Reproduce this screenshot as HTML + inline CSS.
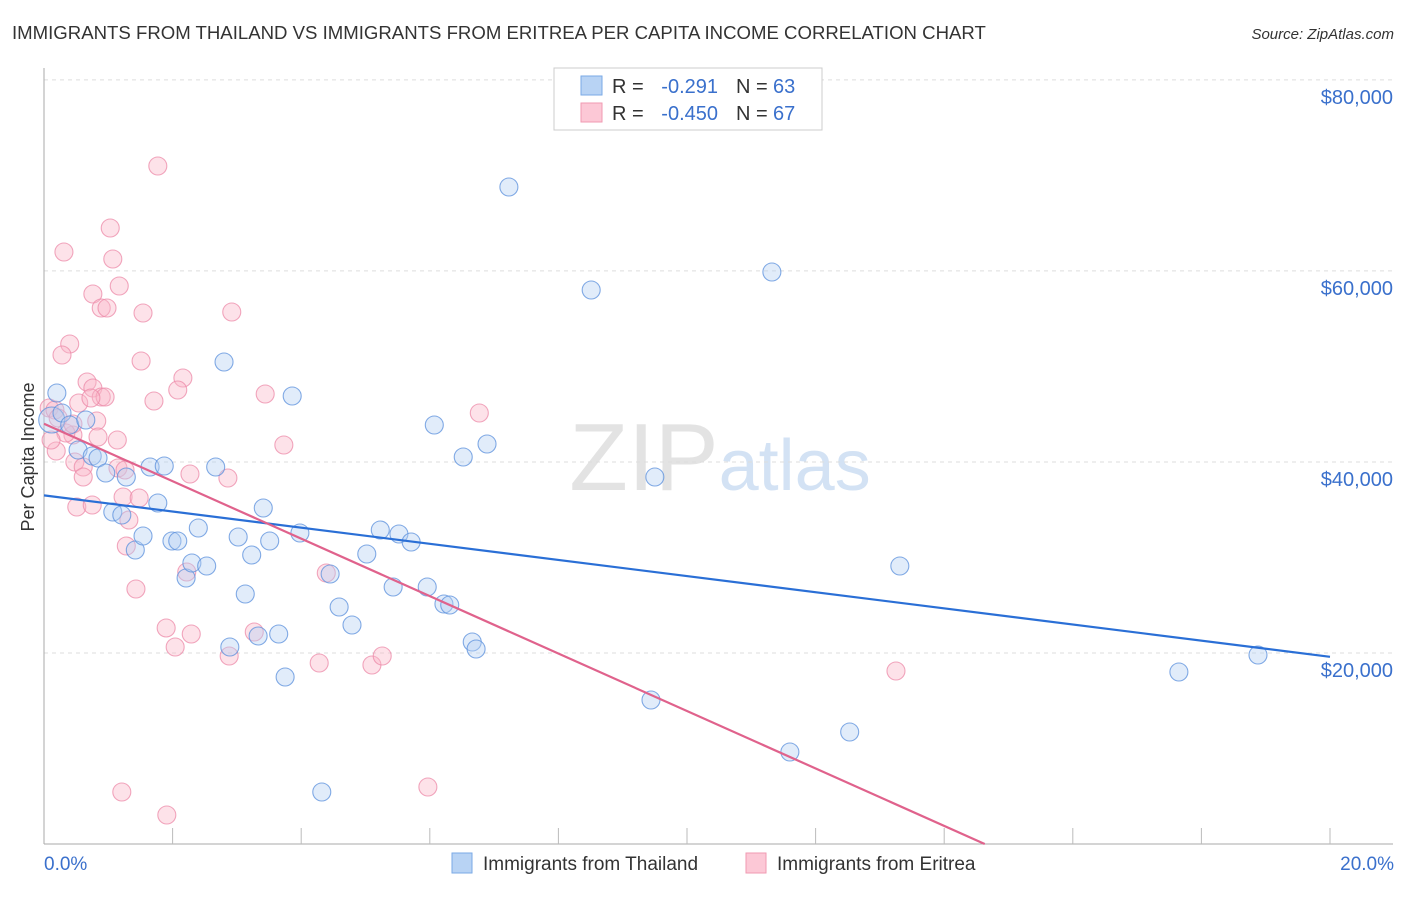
<!DOCTYPE html>
<html><head><meta charset="utf-8"><style>
body{margin:0;background:#fff;font-family:"Liberation Sans",sans-serif;}
svg text{font-family:"Liberation Sans",sans-serif;}
</style></head><body>
<svg id="chart" width="1406" height="892" viewBox="0 0 1406 892" xmlns="http://www.w3.org/2000/svg">
<text x="12" y="39" font-size="18.6" fill="#333">IMMIGRANTS FROM THAILAND VS IMMIGRANTS FROM ERITREA PER CAPITA INCOME CORRELATION CHART</text>
<text x="1394" y="39" font-size="15" font-style="italic" fill="#333" text-anchor="end">Source: ZipAtlas.com</text>
<text x="720" y="490" font-size="96" text-anchor="middle" fill="#ddd" font-family="Liberation Serif" opacity="0.8">ZIP<tspan fill="#c9dcf2" font-family="Liberation Sans" font-size="72">atlas</tspan></text>
<g id="grid"></g>
<g id="marks"></g>
<text transform="translate(34,457) rotate(-90)" font-size="18" fill="#333" text-anchor="middle">Per Capita Income</text>
<g>
<rect x="554" y="68" width="268" height="62" fill="#fff" stroke="#ccc"/>
<rect x="581" y="76" width="21" height="19" fill="#b8d3f4" stroke="#7aaae6"/>
<rect x="581" y="103" width="21" height="19" fill="#fcc8d6" stroke="#f09ab2"/>
<text x="612" y="93" font-size="20" fill="#333">R =</text>
<text x="718" y="93" font-size="20" fill="#3a70cc" text-anchor="end">-0.291</text>
<text x="736" y="93" font-size="20" fill="#333">N =</text>
<text x="773" y="93" font-size="20" fill="#3a70cc">63</text>
<text x="612" y="120" font-size="20" fill="#333">R =</text>
<text x="718" y="120" font-size="20" fill="#3a70cc" text-anchor="end">-0.450</text>
<text x="736" y="120" font-size="20" fill="#333">N =</text>
<text x="773" y="120" font-size="20" fill="#3a70cc">67</text>
</g>
<g>
<rect x="452" y="853" width="20" height="20" fill="#b8d3f4" stroke="#7aaae6"/>
<text x="483" y="870" font-size="19" fill="#333">Immigrants from Thailand</text>
<rect x="746" y="853" width="20" height="20" fill="#fcc8d6" stroke="#f09ab2"/>
<text x="777" y="870" font-size="19" fill="#333">Immigrants from Eritrea</text>
</g>
<text x="44" y="870" font-size="19" fill="#3a70cc">0.0%</text>
<text x="1394" y="870" font-size="19" fill="#3a70cc" text-anchor="end">20.0%</text>
</svg>
<script>
const yTicks=[20000,40000,60000,80000];
const yTickLabels=["$20,000","$40,000","$60,000","$80,000"];
const xTicks=[2,4,6,8,10,12,14,16,18,20];
const thaiPx=[[57,393],[52,420],[62,413],[70,425],[86,420],[78,450],[92,456],[98,458],[106,473],[126,477],[113,512],[122,515],[135,550],[143,536],[150,467],[158,503],[164,466],[172,541],[178,541],[186,578],[192,563],[198,528],[207,566],[216,467],[224,362],[230,647],[238,537],[245,594],[252,555],[258,636],[263,508],[270,541],[279,634],[285,677],[292,396],[300,533],[330,574],[322,792],[339,607],[352,625],[367,554],[380,530],[393,587],[399,534],[411,542],[427,587],[434,425],[444,604],[450,605],[463,457],[472,642],[476,649],[487,444],[509,187],[591,290],[651,700],[655,477],[772,272],[790,752],[850,732],[900,566],[1179,672],[1258,655]];
const eriPx=[[158,166],[110,228],[64,252],[113,259],[119,286],[93,294],[101,308],[107,308],[143,313],[232,312],[70,344],[62,355],[141,361],[183,378],[87,382],[93,388],[178,390],[101,397],[105,397],[265,394],[154,401],[479,413],[79,403],[49,408],[55,410],[58,418],[97,421],[73,435],[66,433],[98,437],[117,440],[284,445],[56,451],[75,462],[83,467],[118,468],[125,470],[190,474],[228,478],[83,477],[77,507],[92,505],[123,497],[139,498],[129,520],[126,546],[136,589],[187,572],[326,573],[166,628],[191,634],[175,647],[229,656],[254,632],[319,663],[372,665],[382,656],[896,671],[122,792],[428,787],[167,815],[91,398],[51,440],[73,424]];
const thaiX=thaiPx.map(p=>+((p[0]-44)/64.3).toFixed(2));
const thaiY=thaiPx.map(p=>Math.round((844-p[1])*104.7));
const eriX=eriPx.map(p=>+((p[0]-44)/64.3).toFixed(2));
const eriY=eriPx.map(p=>Math.round((844-p[1])*104.7));
const thaiTrend=[[0,36500],[20,19600]];
const eriTrend=[[0,44000],[14.63,0]];
const X=v=>44+v*64.3, Y=v=>844-v/104.7;
const NS="http://www.w3.org/2000/svg";
const gridG=document.getElementById('grid'), marksG=document.getElementById('marks');
function mk(tag,attrs,parent){const e=document.createElementNS(NS,tag);for(const k in attrs)e.setAttribute(k,attrs[k]);parent.appendChild(e);return e;}
yTicks.forEach((t,i)=>{
 const l=mk('line',{x1:44,x2:1393,y1:Y(t),y2:Y(t),stroke:'#ddd','stroke-dasharray':'4 4'},gridG);
 
 
 const tx=mk('text',{x:1393,y:Y(t)+24,'font-size':20,fill:'#3a70cc','text-anchor':'end'},gridG);
 tx.textContent=yTickLabels[i];
 
 
});
const ya=mk('line',{x1:44,x2:44,y1:68,y2:844,stroke:'#aaa'},gridG);


const xa=mk('line',{x1:44,x2:1393,y1:844,y2:844,stroke:'#aaa'},gridG);


xTicks.forEach(t=>{
 const l=mk('line',{x1:X(t),x2:X(t),y1:828,y2:844,stroke:'#bbb'},gridG);
 
 
});
function pts(xs,ys,fill,stroke,name){
 xs.forEach((x,i)=>{
  const c=mk('circle',{cx:X(x),cy:Y(ys[i]),r:(name==='thailand-point'&&i===1)?13:9,fill:fill,'fill-opacity':0.4,stroke:stroke,'stroke-opacity':0.75,'stroke-width':1.1},marksG);
  
  
 });
}
pts(eriX,eriY,'#f9b6c9','#ec8aa8','eritrea-point');
pts(thaiX,thaiY,'#b3cff2','#5a8fdc','thailand-point');
function trend(tr,col,name){
 const l=mk('line',{x1:X(tr[0][0]),y1:Y(tr[0][1]),x2:X(tr[1][0]),y2:Y(tr[1][1]),stroke:col,'stroke-width':2.2},marksG);
 
 
}
trend(thaiTrend,'#2a6fd6','thailand-trend-line');
trend(eriTrend,'#e0628c','eritrea-trend-line');
</script>
</body></html>
